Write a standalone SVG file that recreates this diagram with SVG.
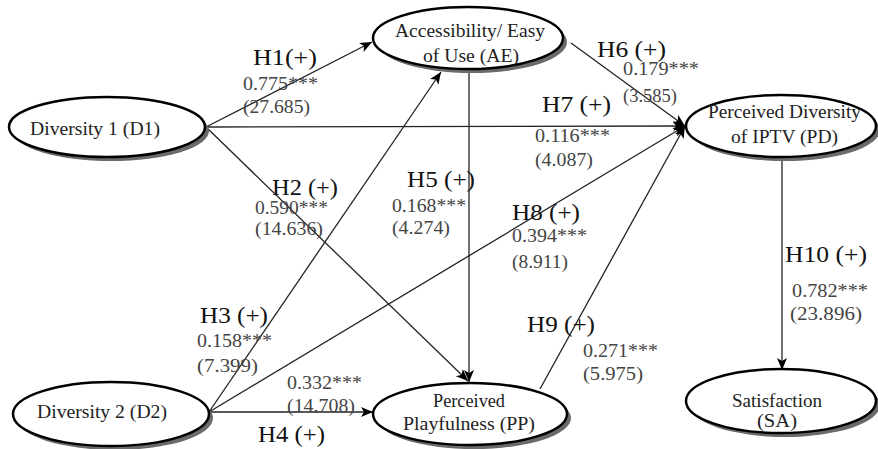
<svg xmlns="http://www.w3.org/2000/svg" width="878" height="449" viewBox="0 0 878 449">
<style>
.sh{fill:#6a6a6a}
.el{fill:#fff;stroke:#000;stroke-width:2.5}
.nt{font-family:"Liberation Serif",serif;font-size:18px;fill:#222}
.hl{font-family:"Liberation Serif",serif;font-size:23px;fill:#111}
.nl{font-family:"Liberation Serif",serif;font-size:18px;fill:#444}
.cn{stroke:#222;stroke-width:1.3;fill:none;marker-end:url(#ah)}
</style>
<defs>
<marker id="ah" markerUnits="userSpaceOnUse" markerWidth="14" markerHeight="12" refX="12" refY="5" orient="auto">
<path d="M0,0 L12,5 L0,10 L3,5 z" fill="#000"/>
</marker>
</defs>
<rect width="878" height="449" fill="#fff"/>
<g id="connectors">
<line class="cn" x1="206" y1="127" x2="372" y2="42"/>
<line class="cn" x1="206" y1="127" x2="685" y2="126"/>
<line class="cn" x1="206" y1="127" x2="468" y2="381"/>
<line class="cn" x1="209" y1="412" x2="441" y2="72"/>
<line class="cn" x1="209" y1="412" x2="685" y2="126"/>
<line class="cn" x1="209" y1="412" x2="373" y2="412"/>
<line class="cn" x1="469" y1="70" x2="469" y2="382"/>
<line class="cn" x1="571" y1="43" x2="685" y2="126"/>
<line class="cn" x1="540" y1="389" x2="685" y2="126"/>
<line class="cn" x1="782" y1="157" x2="782" y2="370"/>
</g>
<g id="D1">
<ellipse class="sh" cx="111" cy="131" rx="98" ry="30"/>
<ellipse class="el" cx="107" cy="127" rx="98" ry="30"/>
<text class="nt" x="30" y="135" textLength="130" lengthAdjust="spacingAndGlyphs">Diversity 1 (D1)</text>
</g>
<g id="D2">
<ellipse class="sh" cx="115" cy="418" rx="98" ry="32"/>
<ellipse class="el" cx="111" cy="414" rx="98" ry="32"/>
<text class="nt" x="37" y="418" textLength="130" lengthAdjust="spacingAndGlyphs">Diversity 2 (D2)</text>
</g>
<g id="AE">
<ellipse class="sh" cx="472" cy="42" rx="95" ry="31"/>
<ellipse class="el" cx="468" cy="38" rx="95" ry="31"/>
<text class="nt" x="395" y="37" textLength="150" lengthAdjust="spacingAndGlyphs">Accessibility/ Easy</text>
<text class="nt" x="423" y="62" textLength="96" lengthAdjust="spacingAndGlyphs">of Use (AE)</text>
</g>
<g id="PD">
<ellipse class="sh" cx="785" cy="130" rx="95" ry="31"/>
<ellipse class="el" cx="781" cy="126" rx="95" ry="31"/>
<text class="nt" x="708" y="118" textLength="153" lengthAdjust="spacingAndGlyphs">Perceived Diversity</text>
<text class="nt" x="731" y="143" textLength="107" lengthAdjust="spacingAndGlyphs">of IPTV (PD)</text>
</g>
<g id="PP">
<ellipse class="sh" cx="474" cy="418" rx="97" ry="31"/>
<ellipse class="el" cx="470" cy="414" rx="97" ry="31"/>
<text class="nt" x="433" y="407" textLength="72" lengthAdjust="spacingAndGlyphs">Perceived</text>
<text class="nt" x="403" y="430" textLength="132" lengthAdjust="spacingAndGlyphs">Playfulness (PP)</text>
</g>
<g id="SA">
<ellipse class="sh" cx="785" cy="405" rx="95" ry="32"/>
<ellipse class="el" cx="781" cy="401" rx="95" ry="32"/>
<text class="nt" x="732" y="407" textLength="90" lengthAdjust="spacingAndGlyphs">Satisfaction</text>
<text class="nt" x="757" y="427" textLength="40" lengthAdjust="spacingAndGlyphs">(SA)</text>
</g>
<g id="labels">
<text class="hl" x="253" y="65" textLength="64" lengthAdjust="spacingAndGlyphs">H1(+)</text>
<text class="nl" x="243" y="90" textLength="75" lengthAdjust="spacingAndGlyphs">0.775***</text>
<text class="nl" x="243" y="113" textLength="67" lengthAdjust="spacingAndGlyphs">(27.685)</text>
<text class="hl" x="272" y="195" textLength="66" lengthAdjust="spacingAndGlyphs">H2 (+)</text>
<text class="nl" x="255" y="214" textLength="73" lengthAdjust="spacingAndGlyphs">0.590***</text>
<text class="nl" x="255" y="235" textLength="68" lengthAdjust="spacingAndGlyphs">(14.636)</text>
<text class="hl" x="407" y="187" textLength="68" lengthAdjust="spacingAndGlyphs">H5 (+)</text>
<text class="nl" x="392" y="212" textLength="74" lengthAdjust="spacingAndGlyphs">0.168***</text>
<text class="nl" x="392" y="234" textLength="58" lengthAdjust="spacingAndGlyphs">(4.274)</text>
<text class="hl" x="597" y="57" textLength="69" lengthAdjust="spacingAndGlyphs">H6 (+)</text>
<text class="nl" x="623" y="75" textLength="76" lengthAdjust="spacingAndGlyphs">0.179***</text>
<text class="nl" x="623" y="102" textLength="54" lengthAdjust="spacingAndGlyphs">(3.585)</text>
<text class="hl" x="542" y="112" textLength="69" lengthAdjust="spacingAndGlyphs">H7 (+)</text>
<text class="nl" x="535" y="142" textLength="75" lengthAdjust="spacingAndGlyphs">0.116***</text>
<text class="nl" x="535" y="166" textLength="58" lengthAdjust="spacingAndGlyphs">(4.087)</text>
<text class="hl" x="512" y="220" textLength="68" lengthAdjust="spacingAndGlyphs">H8 (+)</text>
<text class="nl" x="512" y="242" textLength="75" lengthAdjust="spacingAndGlyphs">0.394***</text>
<text class="nl" x="512" y="268" textLength="56" lengthAdjust="spacingAndGlyphs">(8.911)</text>
<text class="hl" x="200" y="323" textLength="68" lengthAdjust="spacingAndGlyphs">H3 (+)</text>
<text class="nl" x="197" y="347" textLength="75" lengthAdjust="spacingAndGlyphs">0.158***</text>
<text class="nl" x="197" y="372" textLength="61" lengthAdjust="spacingAndGlyphs">(7.399)</text>
<text class="nl" x="287" y="389" textLength="75" lengthAdjust="spacingAndGlyphs">0.332***</text>
<text class="nl" x="287" y="412" textLength="68" lengthAdjust="spacingAndGlyphs">(14.708)</text>
<text class="hl" x="258" y="442" textLength="67" lengthAdjust="spacingAndGlyphs">H4 (+)</text>
<text class="hl" x="527" y="332" textLength="68" lengthAdjust="spacingAndGlyphs">H9 (+)</text>
<text class="nl" x="583" y="357" textLength="75" lengthAdjust="spacingAndGlyphs">0.271***</text>
<text class="nl" x="583" y="380" textLength="60" lengthAdjust="spacingAndGlyphs">(5.975)</text>
<text class="hl" x="785" y="262" textLength="82" lengthAdjust="spacingAndGlyphs">H10 (+)</text>
<text class="nl" x="792" y="297" textLength="76" lengthAdjust="spacingAndGlyphs">0.782***</text>
<text class="nl" x="790" y="320" textLength="72" lengthAdjust="spacingAndGlyphs">(23.896)</text>
</g>
</svg>
